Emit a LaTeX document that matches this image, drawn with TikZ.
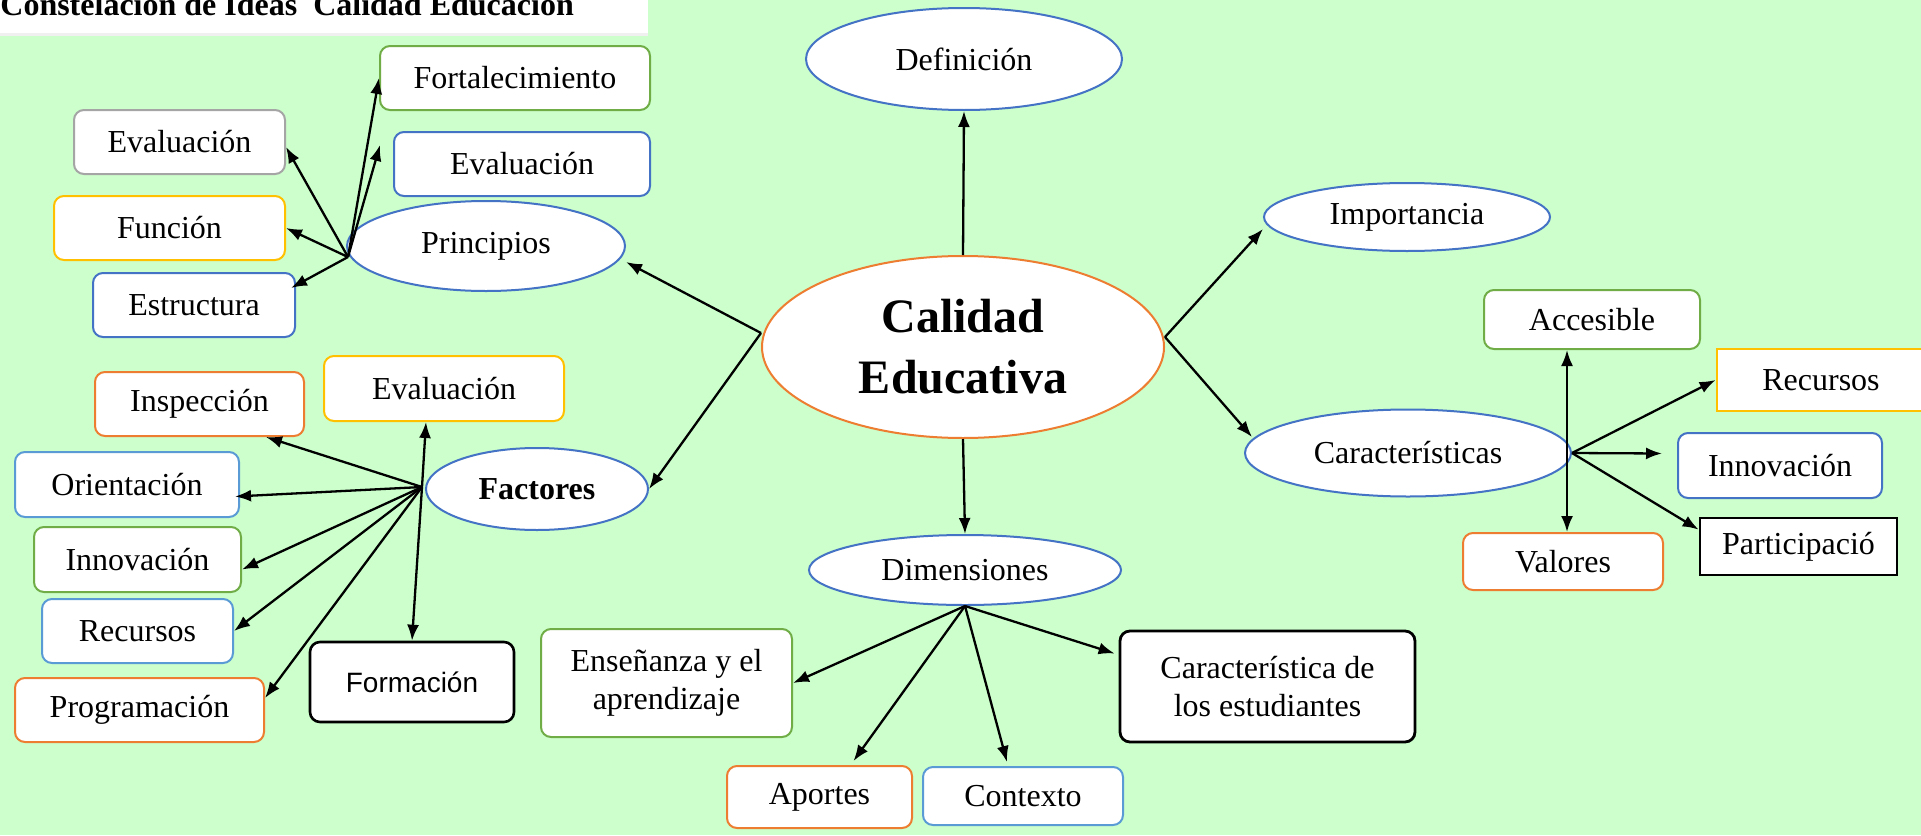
\documentclass[tikz,border=0pt]{standalone}
\usepackage{fontspec}
\setmainfont{Liberation Serif}
\setsansfont{Liberation Sans}
\usetikzlibrary{shapes.geometric,arrows.meta}

\begin{document}
\begin{tikzpicture}[x=0.5pt,y=-0.5pt,
    boxsize/.style 2 args={minimum width=#1*0.5pt,minimum height=#2*0.5pt},
    idea/.style={draw=#1,line width=1pt,rounded corners=5pt,fill=white,inner sep=0pt,
        align=center,font=\fontsize{16}{19}\selectfont},
    flat/.style={draw=#1,line width=1.4pt,fill=white,inner sep=0pt,
        font=\fontsize{16}{19}\selectfont},
    oval/.style={ellipse,draw=#1,line width=1pt,fill=white,inner sep=0pt,
        font=\fontsize{16}{19}\selectfont},
    link/.style={-{Latex[length=8pt,width=6pt]},line width=1.15pt}]
    \definecolor{bg_green}{HTML}{CCFFCC}
    \definecolor{mso_blue}{HTML}{4472C4}
    \definecolor{mso_orange}{HTML}{ED7D31}
    \definecolor{mso_green}{HTML}{70AD47}
    \definecolor{mso_gold}{HTML}{FFC000}
    \definecolor{mso_gray}{HTML}{A5A5A5}
    \definecolor{mso_sky}{HTML}{5B9BD5}
    \useasboundingbox (0,0) rectangle (1921,835);
    \fill[bg_green] (0,0) rectangle (1921,835);
    %\draw[help lines] (0,0) grid[step=100] (1921,835);
    \fill[white] (0,0) rectangle (648,33);
    \fill[black!6] (0,33) rectangle (648,36);
    \node[anchor=base west,inner sep=0pt,font=\bfseries\fontsize{16}{19}\selectfont] (titulo) at (0,15)
        {Constelación de Ideas\ \ Calidad Educación};

    \node[oval=mso_orange,boxsize={402}{182},align=center,
        font=\bfseries\fontsize{24}{30.5}\selectfont] (calidad) at (963,347) {Calidad\\Educativa};
    \node[oval=mso_blue,boxsize={316}{102}] (definicion) at (964,59) {Definición};
    \node[oval=mso_blue,boxsize={286}{68}] (importancia) at (1407,217) {Importancia};
    \node[oval=mso_blue,boxsize={278}{90}] (principios) at (486,246) {Principios};
    \node[oval=mso_blue,boxsize={222}{82},font=\bfseries\fontsize{16}{19}\selectfont] (factores) at (537,489) {Factores};
    \node[oval=mso_blue,boxsize={312}{70}] (dimensiones) at (965,570) {Dimensiones};
    \node[oval=mso_blue,boxsize={326}{87}] (caracteristicas) at (1408,453) {Características};

    \node[idea=mso_green,boxsize={270}{64}] (principio0) at (515,78) {Fortalecimiento};
    \node[idea=mso_blue,boxsize={256}{64}] (principio1) at (522,164) {Evaluación};
    \node[idea=mso_gray,boxsize={211}{64}] (principio2) at (179.5,142) {Evaluación};
    \node[idea=mso_gold,boxsize={231}{64}] (principio3) at (169.5,228) {Función};
    \node[idea=mso_blue,boxsize={202}{64}] (principio4) at (194,305) {Estructura};

    \node[idea=mso_orange,boxsize={209}{64}] (factor0) at (199.5,404) {Inspección};
    \node[idea=mso_gold,boxsize={240}{65}] (factor1) at (444,388.5) {Evaluación};
    \node[idea=mso_sky,boxsize={224}{65}] (factor2) at (127,484.5) {Orientación};
    \node[idea=mso_green,boxsize={207}{65}] (factor3) at (137.5,559.5) {Innovación};
    \node[idea=mso_sky,boxsize={191}{64}] (factor4) at (137.5,631) {Recursos};
    \node[idea=mso_orange,boxsize={249}{64}] (factor5) at (139.5,710) {Programación};
    \node[idea=black,line width=1.3pt,boxsize={204}{80},font=\sffamily\fontsize{14}{17}\selectfont] (factor6) at (412,682) {Formación};

    \node[idea=mso_green,boxsize={251}{108}] (dimension0) at (666.5,683) {Enseñanza y el\\aprendizaje};
    \node[idea=black,line width=1.4pt,boxsize={295}{111}] (dimension1) at (1267.5,686.5) {Característica de\\los estudiantes};
    \node[idea=mso_orange,boxsize={185}{62}] (dimension2) at (819.5,797) {Aportes};
    \node[idea=mso_sky,boxsize={200}{58}] (dimension3) at (1023,796) {Contexto};

    \node[idea=mso_green,boxsize={216}{59}] (caract0) at (1592,319.5) {Accesible};
    \node[flat=mso_gold,boxsize={208}{62}] (caract1) at (1821,380) {Recursos};
    \node[idea=mso_blue,boxsize={204}{65}] (caract2) at (1780,465.5) {Innovación};
    \node[flat=black,boxsize={197}{57}] (caract3) at (1798.5,546.5) {Participació};
    \node[idea=mso_orange,boxsize={200}{57}] (caract4) at (1563,561.5) {Valores};

    \coordinate (hub_l) at ([yshift=7pt]calidad.west);
    \coordinate (hub_r) at ([yshift=5pt]calidad.east);
    \coordinate (hub_p) at ([xshift=1pt,yshift=-5.5pt]principios.west);
    \coordinate (hub_f) at ([xshift=-1.5pt,yshift=1pt]factores.west);
    \coordinate (hub_v) at ([xshift=-2.5pt]caracteristicas.east);

    \draw[link] (calidad.north) -- (definicion.south);
    \draw[link] (calidad.south) -- (dimensiones.north);
    \draw[link] (hub_l) -- ([yshift=-8pt]principios.east);
    \draw[link] (hub_l) -- (factores.east);
    \draw[link] (hub_r) -- ([yshift=-6pt]importancia.west);
    \draw[link] (hub_r) -- ([xshift=4pt,yshift=8pt]caracteristicas.west);

    \draw[link] (hub_p) -- (principio0.west);
    \draw[link] (hub_p) -- ([xshift=-6.5pt,yshift=9.5pt]principio1.west);
    \draw[link] (hub_p) -- ([yshift=-2.5pt]principio2.east);
    \draw[link] (hub_p) -- (principio3.east);
    \draw[link] (hub_p) -- ([xshift=-2.5pt,yshift=8.5pt]principio4.east);

    \draw[link] (hub_f) -- ([xshift=-19.5pt]factor0.south east);
    \draw[link] (hub_f) -- ([xshift=-9pt]factor1.south);
    \draw[link] (hub_f) -- ([xshift=-2.5pt,yshift=-6pt]factor2.east);
    \draw[link] (hub_f) -- ([yshift=-5pt]factor3.east);
    \draw[link] (hub_f) -- (factor4.east);
    \draw[link] (hub_f) -- ([yshift=6pt]factor5.east);
    \draw[link] (hub_f) -- (factor6.north);

    \draw[link] (dimensiones.south) -- (dimension0.east);
    \draw[link] (dimensiones.south) -- ([xshift=-2pt,yshift=16.5pt]dimension1.west);
    \draw[link] (dimensiones.south) -- ([xshift=17pt,yshift=2pt]dimension2.north);
    \draw[link] (dimensiones.south) -- ([xshift=-8pt,yshift=2pt]dimension3.north);

    \draw[link] (hub_v) -- (hub_v |- caract0.south);
    \draw[link] (hub_v) -- (hub_v |- caract4.north);
    \draw[link] (caracteristicas.east) -- (caract1.west);
    \draw[link] (caracteristicas.east) -- ([xshift=-7.5pt,yshift=6pt]caract2.west);
    \draw[link] (caracteristicas.east) -- ([yshift=-6.5pt]caract3.north west);
\end{tikzpicture}
\end{document}
